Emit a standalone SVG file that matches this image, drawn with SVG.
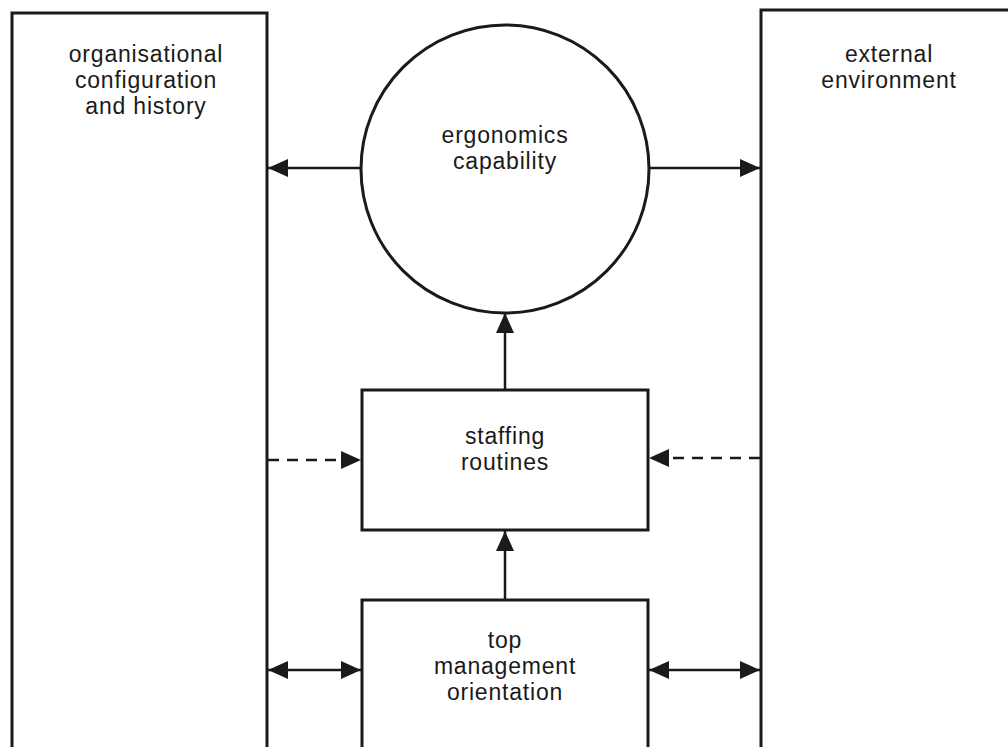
<svg xmlns="http://www.w3.org/2000/svg" width="1008" height="747" viewBox="0 0 1008 747">
  <defs>
    <marker id="head" viewBox="0 0 20 18" refX="20" refY="9" markerWidth="20" markerHeight="18" markerUnits="userSpaceOnUse" orient="auto-start-reverse">
      <path d="M0,0 L20,9 L0,18 Z" fill="#1a1a1a"/>
    </marker>
    <style>
      .box { fill: #ffffff; stroke: #1a1a1a; stroke-width: 3; }
      .label { font-family: "Liberation Sans", Arial, sans-serif; font-size: 23px; letter-spacing: 0.8px; fill: #1a1a1a; text-anchor: middle; }
      .link { stroke: #1a1a1a; stroke-width: 2.5; fill: none; }
      .dash { stroke-dasharray: 11 8; }
    </style>
  </defs>
  <rect width="1008" height="747" fill="#ffffff"/>

  <!-- outer left box: open at the bottom -->
  <g id="org-config">
    <path class="box" d="M12,760 L12,13 L267,13 L267,760"/>
    <text class="label" x="146" y="62">organisational</text>
    <text class="label" x="146" y="88">configuration</text>
    <text class="label" x="146" y="114">and history</text>
  </g>

  <!-- outer right box: open at the bottom and right -->
  <g id="external-env">
    <path class="box" d="M1015,10 L761,10 L761,760"/>
    <text class="label" x="889" y="62">external</text>
    <text class="label" x="889" y="88">environment</text>
  </g>

  <g id="ergonomics">
    <circle class="box" cx="505" cy="169" r="144"/>
    <text class="label" x="505" y="143">ergonomics</text>
    <text class="label" x="505" y="169">capability</text>
  </g>

  <g id="staffing">
    <rect class="box" x="362" y="390" width="286" height="140"/>
    <text class="label" x="505" y="444">staffing</text>
    <text class="label" x="505" y="470">routines</text>
  </g>

  <g id="top-management">
    <path class="box" d="M362,760 L362,600 L648,600 L648,760"/>
    <text class="label" x="505" y="648">top</text>
    <text class="label" x="505" y="674">management</text>
    <text class="label" x="505" y="700">orientation</text>
  </g>

  <g id="connectors">
    <line class="link" x1="361" y1="168" x2="268" y2="168" marker-end="url(#head)"/>
    <line class="link" x1="649" y1="168" x2="760" y2="168" marker-end="url(#head)"/>
    <line class="link" x1="505" y1="389" x2="505" y2="313" marker-end="url(#head)"/>
    <line class="link" x1="505" y1="599" x2="505" y2="531" marker-end="url(#head)"/>
    <line class="link dash" x1="268" y1="460" x2="361" y2="460" marker-end="url(#head)"/>
    <line class="link dash" x1="760" y1="458" x2="649" y2="458" marker-end="url(#head)"/>
    <line class="link" x1="268" y1="670" x2="361" y2="670" marker-start="url(#head)" marker-end="url(#head)"/>
    <line class="link" x1="649" y1="670" x2="760" y2="670" marker-start="url(#head)" marker-end="url(#head)"/>
  </g>
</svg>
